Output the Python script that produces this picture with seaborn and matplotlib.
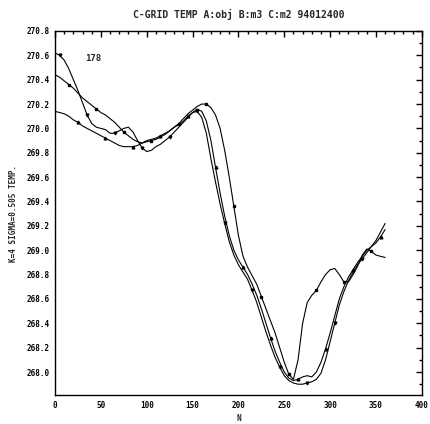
import numpy as np
import pandas as pd
import matplotlib
matplotlib.use("Agg")
import matplotlib.pyplot as plt
import seaborn as sns
from matplotlib.ticker import MultipleLocator

# Zonal position (0..360, every 5) and temperature for the three runs
x_pos = list(range(0, 365, 5))

temp_a = [270.62, 270.60, 270.56, 270.49, 270.40, 270.31, 270.21, 270.11, 270.04, 270.01,
          270.00, 269.99, 269.96, 269.96, 269.98, 270.00, 270.01, 269.97, 269.90, 269.84,
          269.81, 269.82, 269.85, 269.87, 269.90, 269.93, 269.97, 270.01, 270.05, 270.09,
          270.13, 270.14, 270.09, 269.96, 269.75, 269.56, 269.38, 269.22, 269.07, 268.96,
          268.88, 268.82, 268.76, 268.67, 268.57, 268.45, 268.33, 268.22, 268.12, 268.04,
          267.97, 267.93, 267.91, 267.90, 267.90, 267.91, 267.92, 267.94, 267.99, 268.10,
          268.25, 268.40, 268.55, 268.66, 268.75, 268.82, 268.88, 268.93, 268.98, 269.03,
          269.08, 269.15, 269.22]

temp_b = [270.44, 270.42, 270.39, 270.36, 270.33, 270.29, 270.25, 270.22, 270.19, 270.16,
          270.13, 270.11, 270.08, 270.05, 270.01, 269.97, 269.94, 269.91, 269.89, 269.88,
          269.89, 269.90, 269.91, 269.93, 269.95, 269.98, 270.01, 270.04, 270.08, 270.12,
          270.15, 270.18, 270.20, 270.20, 270.17, 270.11, 270.00, 269.82, 269.60, 269.36,
          269.12, 268.95, 268.86, 268.79, 268.72, 268.62, 268.52, 268.42, 268.32, 268.20,
          268.08, 267.98, 267.94, 268.10, 268.40, 268.57, 268.63, 268.67, 268.74, 268.80,
          268.84, 268.85, 268.80, 268.74, 268.74, 268.80, 268.87, 268.96, 269.01, 268.99,
          268.96, 268.95, 268.94]

temp_c = [270.14, 270.13, 270.12, 270.10, 270.07, 270.05, 270.02, 270.00, 269.98, 269.96,
          269.94, 269.92, 269.90, 269.88, 269.86, 269.85, 269.85, 269.85, 269.86, 269.88,
          269.90, 269.91, 269.92, 269.94, 269.96, 269.98, 270.01, 270.03, 270.06, 270.10,
          270.13, 270.16, 270.14, 270.06, 269.90, 269.68, 269.47, 269.28, 269.12, 269.00,
          268.92, 268.86, 268.80, 268.72, 268.63, 268.52, 268.40, 268.28, 268.17, 268.08,
          268.00, 267.95, 267.93, 267.94, 267.96, 267.97, 267.96, 268.00, 268.08, 268.19,
          268.32, 268.46, 268.60, 268.70, 268.78, 268.84, 268.90, 268.95, 269.00, 269.03,
          269.06, 269.11, 269.17]

run_names = ["obj", "m3", "m2"]

y_ticks = [268.0, 268.2, 268.4, 268.6, 268.8, 269.0, 269.2, 269.4, 269.6, 269.8,
           270.0, 270.2, 270.4, 270.6, 270.8]
x_ticks = [0, 50, 100, 150, 200, 250, 300, 350, 400]

n = len(x_pos)
df = pd.DataFrame({
    "x": x_pos * 3,
    "temp": temp_a + temp_b + temp_c,
    "run": [run_names[0]] * n + [run_names[1]] * n + [run_names[2]] * n,
})

sns.set_style("white")
plt.rcParams["font.family"] = ["DejaVu Sans Mono", "DejaVu Sans"]
plt.rcParams["font.weight"] = "bold"

fig = plt.figure(figsize=(4.30, 4.24), dpi=100)
ax = fig.add_axes([0.128, 0.068, 0.853, 0.859])

sns.lineplot(data=df, x="x", y="temp", hue="run", style="run",
             palette=["black"] * 3, dashes=False, markers=False,
             linewidth=0.8, legend=False, ax=ax)

# sparse symbols along each curve
marker_styles = {"obj": "v", "m3": "s", "m2": "^"}
offsets = {"obj": 1, "m3": 3, "m2": 5}
for name, vals in zip(run_names, [temp_a, temp_b, temp_c]):
    idx = list(range(offsets[name], n, 6))
    ax.plot([x_pos[i] for i in idx], [vals[i] for i in idx],
            linestyle="none", marker=marker_styles[name], markersize=2.0,
            color="black")

ax.set_xlim(0, 400)
ax.set_ylim(267.81, 270.8)
ax.set_xticks(x_ticks)
ax.set_xticklabels([str(t) for t in x_ticks])
ax.set_yticks(y_ticks)
ax.set_yticklabels([f"{t:.1f}" for t in y_ticks])
ax.xaxis.set_minor_locator(MultipleLocator(10))
ax.yaxis.set_minor_locator(MultipleLocator(0.1))
ax.tick_params(which="both", direction="in", top=True, right=True,
               labelsize=5.5, colors="black", width=1.0)
ax.tick_params(which="major", length=4, pad=4)
ax.tick_params(which="minor", length=2)
for sp in ax.spines.values():
    sp.set_color("black")
    sp.set_linewidth(1.0)

ax.set_xlabel("N", fontsize=5.5, fontweight="bold", labelpad=3)
ax.set_ylabel("K=4 SIGMA=0.505 TEMP.", fontsize=5.5, fontweight="bold", labelpad=6)
ax.set_title("C-GRID TEMP A:obj B:m3 C:m2 94012400", fontsize=7,
             fontweight="bold", pad=9)
ax.text(33, 270.57, "178", fontsize=6.5, fontweight="bold", va="center")

fig.savefig("out.png", dpi=100, facecolor="white")
